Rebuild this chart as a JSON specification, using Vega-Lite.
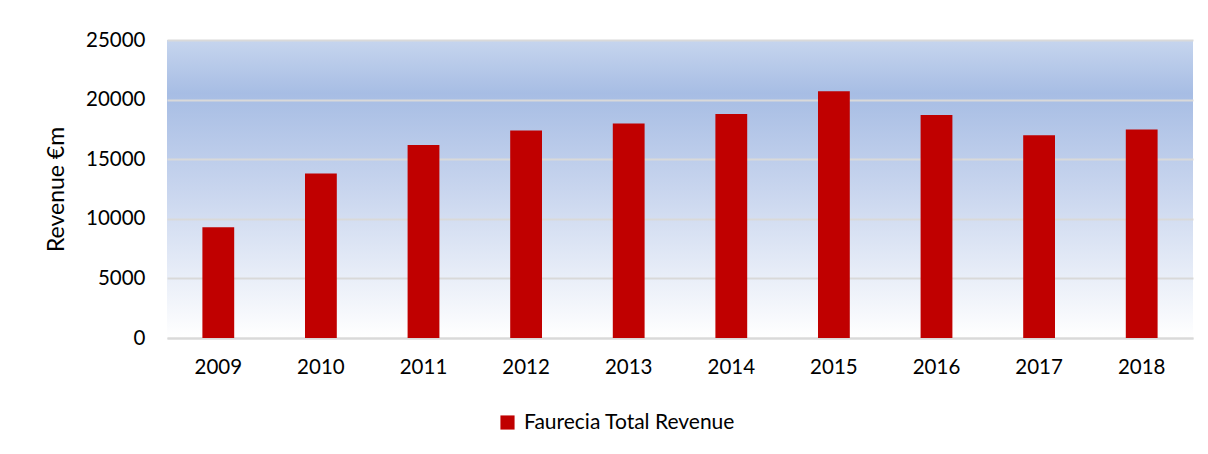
{
  "$schema": "https://vega.github.io/schema/vega-lite/v6.json",
  "width": 1026,
  "height": 298,
  "autosize": {"type": "none"},
  "padding": {"left": 167, "top": 40, "right": 15, "bottom": 116},
  "background": "#ffffff",
  "config": {
    "font": "Lato",
    "view": {
      "stroke": null,
      "fill": {
        "gradient": "linear",
        "x1": 0, "y1": 0, "x2": 0, "y2": 1,
        "stops": [
          {"offset": 0, "color": "#c6d5ee"},
          {"offset": 0.18, "color": "#a7bde4"},
          {"offset": 0.5, "color": "#c8d5ee"},
          {"offset": 1, "color": "#ffffff"}
        ]
      }
    }
  },
  "data": {
    "values": [
      {"year": "2009", "revenue": 9300, "series": "Faurecia Total Revenue"},
      {"year": "2010", "revenue": 13800, "series": "Faurecia Total Revenue"},
      {"year": "2011", "revenue": 16200, "series": "Faurecia Total Revenue"},
      {"year": "2012", "revenue": 17400, "series": "Faurecia Total Revenue"},
      {"year": "2013", "revenue": 18000, "series": "Faurecia Total Revenue"},
      {"year": "2014", "revenue": 18800, "series": "Faurecia Total Revenue"},
      {"year": "2015", "revenue": 20700, "series": "Faurecia Total Revenue"},
      {"year": "2016", "revenue": 18700, "series": "Faurecia Total Revenue"},
      {"year": "2017", "revenue": 17000, "series": "Faurecia Total Revenue"},
      {"year": "2018", "revenue": 17500, "series": "Faurecia Total Revenue"}
    ]
  },
  "mark": {"type": "bar"},
  "encoding": {
    "x": {
      "field": "year",
      "type": "ordinal",
      "scale": {"paddingInner": 0.69, "paddingOuter": 0.345},
      "axis": {
        "title": null,
        "labelAngle": 0,
        "labelFontSize": 20.5,
        "labelColor": "#000000",
        "labelPadding": 19,
        "ticks": false,
        "domainColor": "#d9d9d9",
        "domainWidth": 2
      }
    },
    "y": {
      "field": "revenue",
      "type": "quantitative",
      "scale": {"domain": [0, 25000]},
      "axis": {
        "title": "Revenue €m",
        "titleFontSize": 23,
        "titleFontWeight": "normal",
        "titleColor": "#000000",
        "titlePadding": 17,
        "values": [0, 5000, 10000, 15000, 20000, 25000],
        "format": "d",
        "labelFontSize": 20.5,
        "labelColor": "#000000",
        "labelPadding": 22,
        "ticks": false,
        "domain": false,
        "gridColor": "#d9d9d9",
        "gridWidth": 2
      }
    },
    "color": {
      "field": "series",
      "type": "nominal",
      "scale": {"range": ["#c00000"]},
      "legend": {
        "title": null,
        "orient": "none",
        "legendX": 330,
        "legendY": 372,
        "symbolType": "square",
        "symbolSize": 200,
        "symbolOpacity": 1,
        "labelFontSize": 21,
        "labelLimit": 0,
        "labelColor": "#000000",
        "labelOffset": 6
      }
    }
  }
}
